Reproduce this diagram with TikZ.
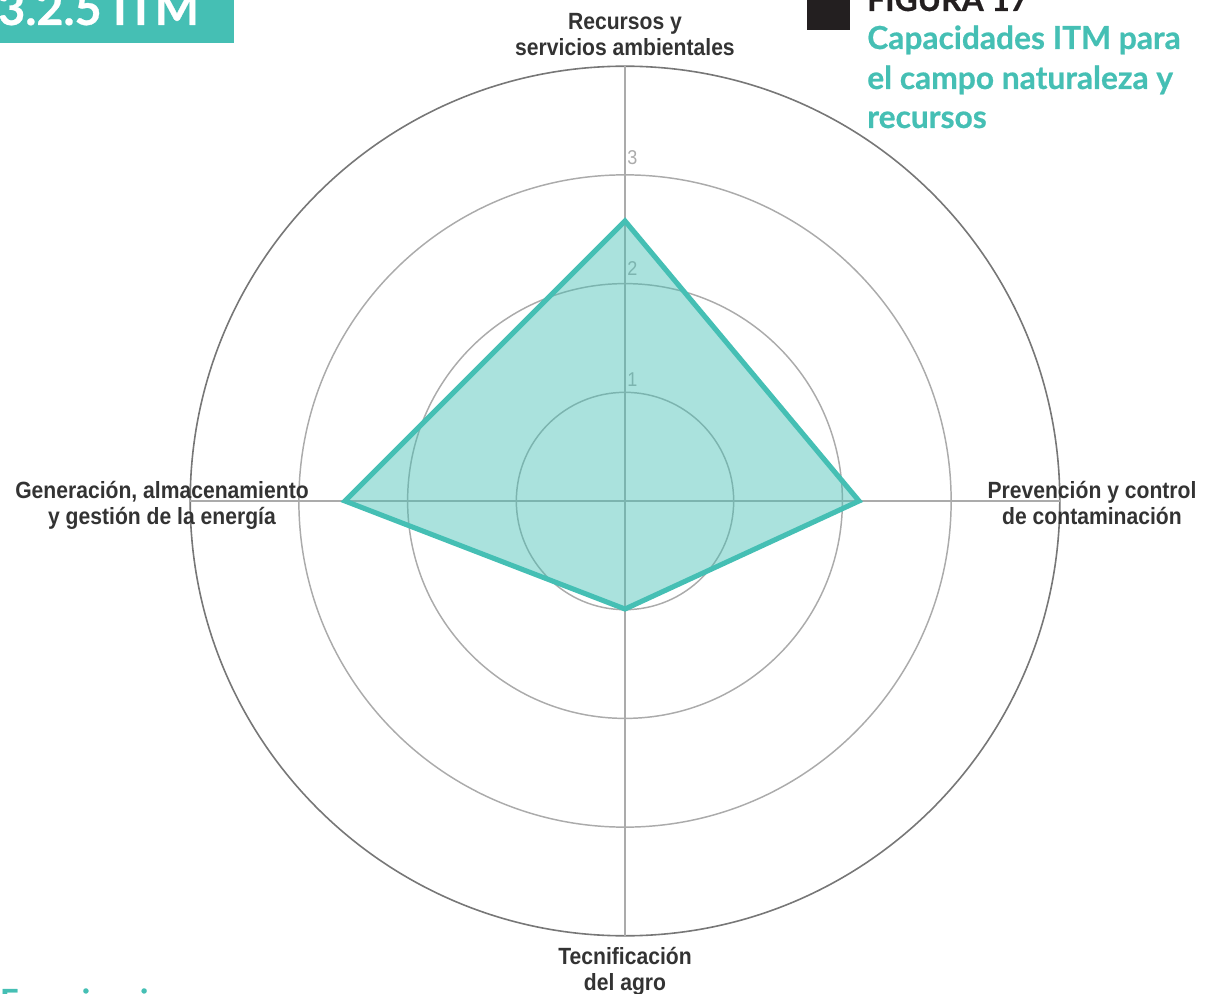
\documentclass[tikz,border=0pt]{standalone}
\usepackage{fontspec}
\newfontfamily\labfont{Liberation Sans}[FakeStretch=0.9]
\newfontfamily\lato{Lato}[BoldFeatures={FakeBold=0.6}]
\definecolor{teal1}{HTML}{45BFB4}
\definecolor{gridg}{HTML}{ABABAB}
\definecolor{outerg}{HTML}{777777}
\definecolor{labg}{HTML}{333333}
\definecolor{figblack}{HTML}{231F20}
\tikzset{
  gridline/.style={draw=gridg, line width=1.1pt},
  outerline/.style={draw=outerg, line width=1.2pt},
  axlabel/.style={anchor=base, inner sep=0pt, text=labg, font=\labfont\bfseries\fontsize{17.6}{20}\selectfont},
  ticklab/.style={anchor=base west, inner sep=0pt, text=gridg, font=\labfont\fontsize{15}{17}\selectfont},
  subtitle/.style={anchor=base west, inner sep=0pt, text=teal1, font=\lato\bfseries\fontsize{23.8}{26}\selectfont},
}
\begin{document}
\begin{tikzpicture}[x=0.75pt,y=-0.75pt]
\useasboundingbox (0,0) rectangle (1205,994);
\clip (0,0) rectangle (1205,994);
\coordinate (C) at (625,501);
% grid circles
\draw[gridline] (C) circle[radius=81.5pt];
\draw[gridline] (C) circle[radius=163.05pt];
\draw[gridline] (C) circle[radius=244.6pt];
\draw[outerline] (C) circle[radius=326.1pt];
% axes
\coordinate (At) at (625,66);
\coordinate (Ab) at (625,936);
\coordinate (Al) at (190,501);
\coordinate (Ar) at (1060,501);
\draw[gridline] (C) -- (At);
\draw[gridline] (C) -- (Ab);
\draw[gridline] (C) -- (Al);
\draw[gridline] (C) -- (Ar);
% tick labels
\node[ticklab] (t1) at (627,387) {1};
\node[ticklab] (t2) at (627,276) {2};
\node[ticklab] (t3) at (627,165) {3};
% data polygon
\coordinate (Pt) at (625,221);
\coordinate (Pr) at (859,501);
\coordinate (Pb) at (625,609);
\coordinate (Pl) at (345,501);
\fill[teal1, fill opacity=0.46] (Pt) -- (Pr) -- (Pb) -- (Pl) -- cycle;
\draw[teal1, line width=3.8pt, line join=miter] (Pt) -- (Pr) -- (Pb) -- (Pl) -- cycle;
% axis labels
\node[axlabel] (la1) at (625,30) {Recursos y};
\node[axlabel] (la2) at (625,56) {servicios ambientales};
\node[axlabel] (lb1) at (1092,498) {Prevención y control};
\node[axlabel] (lb2) at (1092,524) {de contaminación};
\node[axlabel] (lc1) at (625,964) {Tecnificación};
\node[axlabel] (lc2) at (625,990) {del agro};
\node[axlabel] (ld1) at (162,498) {Generación, almacenamiento};
\node[axlabel] (ld2) at (162,524) {y gestión de la energía};
% section header
\fill[teal1] (0,0) rectangle (234,43);
\node[anchor=base west, inner sep=0pt, text=white, font=\lato\bfseries\fontsize{35}{40}\selectfont] (sec) at (-2,25) {3.2.5 ITM};
% figure title
\fill[figblack] (807,0) rectangle (850,30);
\node[anchor=base west, inner sep=0pt, text=figblack, font=\lato\bfseries\fontsize{23.8}{26}\selectfont] (fig) at (867,11) {FIGURA 17};
\node[subtitle] (s1) at (867,49) {Capacidades ITM para};
\node[subtitle] (s2) at (867,89) {el campo naturaleza y};
\node[subtitle] (s3) at (867,128) {recursos};
% cut-off heading at bottom
\node[subtitle] (bot) at (0,1012) {Experiencias};
\end{tikzpicture}
\end{document}
